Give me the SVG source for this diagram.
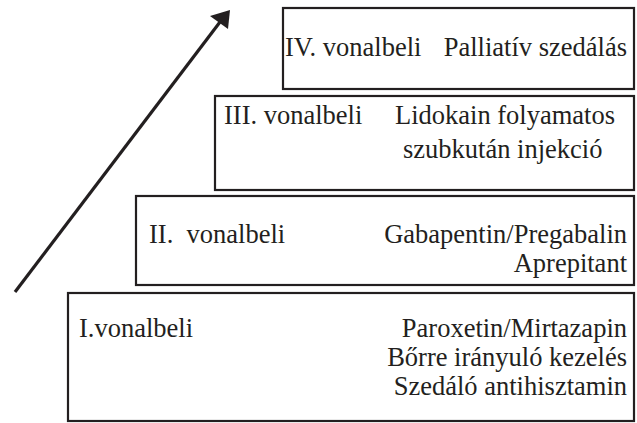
<svg xmlns="http://www.w3.org/2000/svg" width="637" height="423" viewBox="0 0 637 423">
<style>
.box{fill:#fff;stroke:#231f20;stroke-width:2.2}
.t{font-family:'Liberation Serif','Times New Roman',serif;font-size:26.5px;fill:#231f20}
.r{text-anchor:end}
</style>
<rect width="637" height="423" fill="#fff"/>
<g id="connectors">
<line x1="15" y1="292" x2="220" y2="22" stroke="#231f20" stroke-width="3.2"/>
<polygon points="230,10 210,16 228,29" fill="#231f20"/>
</g>
<g id="line4" class="t">
<rect class="box" x="283" y="8" width="351" height="81"/>
<text x="285" y="56">IV. vonalbeli</text>
<text class="r" x="627" y="56">Palliatív szedálás</text>
</g>
<g id="line3" class="t">
<rect class="box" x="215" y="96" width="419" height="94"/>
<text x="224" y="124">III. vonalbeli</text>
<text x="395" y="124">Lidokain folyamatos</text>
<text x="403" y="158">szubkután injekció</text>
</g>
<g id="line2" class="t">
<rect class="box" x="136" y="196" width="498" height="89"/>
<text x="149" y="243" xml:space="preserve">II.  vonalbeli</text>
<text class="r" x="627" y="243">Gabapentin/Pregabalin</text>
<text class="r" x="627" y="272">Aprepitant</text>
</g>
<g id="line1" class="t">
<rect class="box" x="68" y="293" width="566" height="128"/>
<text x="79" y="337">I.vonalbeli</text>
<text class="r" x="627" y="337">Paroxetin/Mirtazapin</text>
<text class="r" x="627" y="366">Bőrre irányuló kezelés</text>
<text class="r" x="627" y="395">Szedáló antihisztamin</text>
</g>
</svg>
